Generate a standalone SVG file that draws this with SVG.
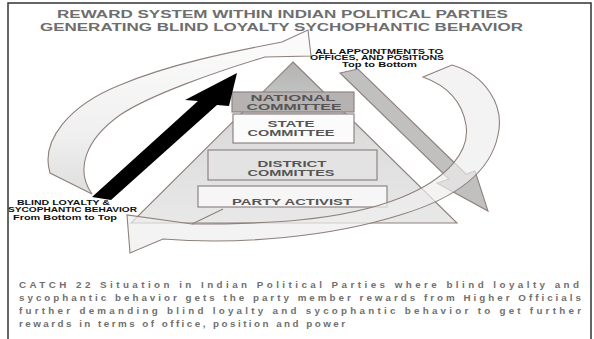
<svg xmlns="http://www.w3.org/2000/svg" width="594" height="339" viewBox="0 0 594 339">
<style>
.t{font-family:"Liberation Sans",Arial,sans-serif;font-weight:bold}
.title{font-size:11px;fill:#6e6e6e}
.box{stroke:#8e8484;stroke-width:1.2}
.bt{font-size:8.5px;fill:#555;text-anchor:middle}
.lab{font-size:7px;fill:#111}
.para{font-size:9.8px;fill:#6f6f6f}
.edge{stroke:#8f807c;stroke-width:1.1;stroke-linejoin:miter}
</style>
<defs>
<linearGradient id="tri" gradientUnits="userSpaceOnUse" x1="0" y1="62" x2="0" y2="223">
<stop offset="0" stop-color="#b3b3b3"/><stop offset="0.2" stop-color="#c2c2c2"/><stop offset="0.45" stop-color="#dcdcdc"/><stop offset="1" stop-color="#e8e8e8"/>
</linearGradient>
<linearGradient id="ga" gradientUnits="userSpaceOnUse" x1="0" y1="40" x2="0" y2="195">
<stop offset="0" stop-color="#fbfbfb"/><stop offset="0.6" stop-color="#f0f0f0"/><stop offset="1" stop-color="#dedede"/>
</linearGradient>
</defs>
<rect width="594" height="339" fill="#fff"/>
<path d="M8,339 V3 H591 V339" fill="none" stroke="#333" stroke-width="1.5"/>
<g id="title">
<text class="t title" x="57" y="18" textLength="451" lengthAdjust="spacingAndGlyphs">REWARD SYSTEM WITHIN INDIAN POLITICAL PARTIES</text>
<text class="t title" x="40" y="31" textLength="483" lengthAdjust="spacingAndGlyphs">GENERATING BLIND LOYALTY SYCHOPHANTIC BEHAVIOR</text>
</g>
<g id="pyramid">
<polygon points="293,62 457,223 131,223" fill="url(#tri)" class="edge"/>
</g>
<g id="national"><rect class="box" x="232" y="92" width="122" height="20" fill="#b6b2b2"/>
<text class="t bt" x="293" y="100.5" textLength="85" lengthAdjust="spacingAndGlyphs">NATIONAL</text>
<text class="t bt" x="294" y="109.5" textLength="95" lengthAdjust="spacingAndGlyphs">COMMITTEE</text></g>
<g id="state"><rect class="box" x="233" y="114" width="121" height="29" fill="#fbfbfb"/>
<text class="t bt" x="291" y="127" textLength="47" lengthAdjust="spacingAndGlyphs">STATE</text>
<text class="t bt" x="291" y="135.5" textLength="87" lengthAdjust="spacingAndGlyphs">COMMITTEE</text></g>
<g id="district"><rect class="box" x="208" y="150" width="169" height="30" fill="#e3e3e3"/>
<text class="t bt" x="292" y="167" textLength="69" lengthAdjust="spacingAndGlyphs">DISTRICT</text>
<text class="t bt" x="291" y="175.5" textLength="87" lengthAdjust="spacingAndGlyphs">COMMITTES</text></g>
<g id="activist"><rect class="box" x="198" y="186" width="189" height="21" fill="#f6f6f6"/>
<text class="t bt" x="292" y="204.5" textLength="120" lengthAdjust="spacingAndGlyphs">PARTY ACTIVIST</text></g>
<g id="connectors">
<polygon id="downArrow" class="edge" points="340,73 358,69 466,174 475,171 488,211 437,183 449,179" fill="#c0c0c0"/>
<path id="curveB" class="edge" fill="#eeeeee" fill-opacity="0.7" d="M452,65 C485,75 505,105 498,135 C490,175 450,200 400,215 C330,237 240,245 163,239 L130,253 L127,215 L192,224 C260,224 340,222 400,198 C450,178 470,150 466,125 C462,100 445,85 423,77 Z"/>
<path class="edge" fill="none" d="M192,224 L223,209"/>
<path id="curveA" class="edge" fill="url(#ga)" d="M50,173 C40,140 70,105 120,85 C170,64 230,52 282,42 L308,30 L311,56 L265,57 C215,72 150,95 120,115 C85,140 75,170 92,194 Z"/>
<polygon id="upArrow" points="237,73 229,106 217,105 111,200 92,197 198,101 185,100" fill="#000"/>
</g>
<g id="labels">
<text class="t lab" x="315" y="54" textLength="128" lengthAdjust="spacingAndGlyphs">ALL APPOINTMENTS TO</text>
<text class="t lab" x="310" y="60" textLength="134" lengthAdjust="spacingAndGlyphs">OFFICES, AND POSITIONS</text>
<text class="t lab" x="342" y="67" textLength="75" lengthAdjust="spacingAndGlyphs">Top to Bottom</text>
<text class="t lab" x="17" y="205" font-size="6.5" textLength="93" lengthAdjust="spacingAndGlyphs">BLIND LOYALTY &amp;</text>
<text class="t lab" x="8" y="212" font-size="6.5" textLength="129" lengthAdjust="spacingAndGlyphs">SYCOPHANTIC BEHAVIOR</text>
<text class="t lab" x="13" y="220" textLength="104" lengthAdjust="spacingAndGlyphs">From Bottom to Top</text>
</g>
<g id="caption">
<text class="t para" x="19" y="288" textLength="560" lengthAdjust="spacing">CATCH 22 Situation in Indian Political Parties where blind loyalty and</text>
<text class="t para" x="19" y="301" textLength="562" lengthAdjust="spacing">sycophantic behavior gets the party member rewards from Higher Officials</text>
<text class="t para" x="19" y="314" textLength="562" lengthAdjust="spacing">further demanding blind loyalty and sycophantic behavior to get further</text>
<text class="t para" x="19" y="327" textLength="326" lengthAdjust="spacing">rewards in terms of office, position and power</text>
</g>
</svg>
